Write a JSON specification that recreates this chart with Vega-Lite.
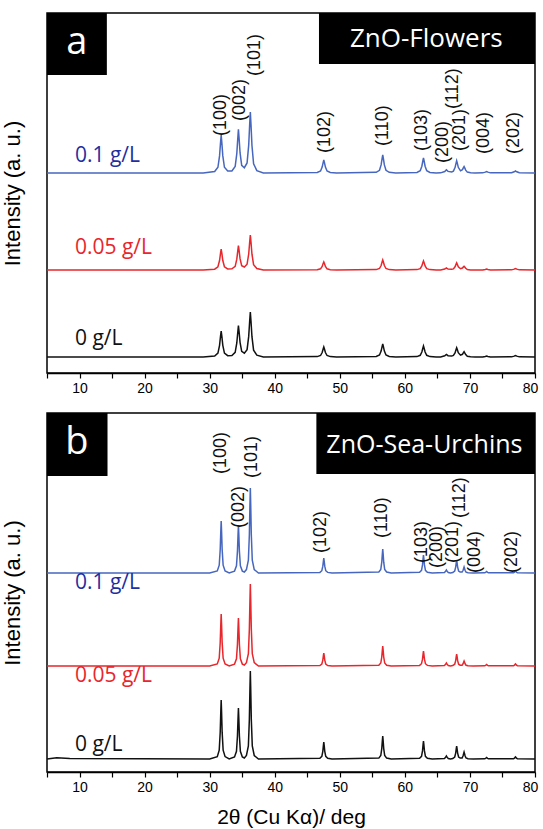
{
  "$schema": "https://vega.github.io/schema/vega-lite/v6.json",
  "padding": {"left": 0, "top": 12, "right": 0, "bottom": 0},
  "spacing": 16,
  "config": {
    "view": {"stroke": "black", "strokeWidth": 1.5},
    "font": "Liberation Sans",
    "axisX": {"values": [5,10,15,20,25,30,35,40,45,50,55,60,65,70,75,80], "labelExpr": "datum.value % 10 === 0 ? datum.label : ''", "labelFlush": false, "labelOffset": {"condition": {"test": "datum.value === 80", "value": -5}, "value": 0}, "labelFontSize": 14, "labelFont": "Liberation Sans", "labelColor": "black", "tickColor": "black", "tickSize": 5, "tickWidth": 1.2, "domainColor": "black", "domainWidth": 1.5, "grid": false, "labelPadding": 3, "titleFont": "Liberation Sans", "titleFontSize": 21, "titleFontWeight": "normal", "titleColor": "black", "titlePadding": 12},
    "axisY": {"labels": false, "ticks": false, "domain": false, "grid": false, "titleFont": "Liberation Sans", "titleFontSize": 22, "titleFontWeight": "normal", "titleColor": "black", "titlePadding": 23}
  },
  "datasets": {
    "ta": [
      {"x":5,"b":200,"r":103,"k":16},{"x":29,"b":200,"r":103,"k":16},{"x":30.77,"b":201.5,"r":103.8,"k":17},{"x":31.27,"b":205.7,"r":106.2,"k":19.9},{"x":31.52,"b":217.1,"r":112.5,"k":27.7},{"x":31.67,"b":230.4,"r":119.8,"k":36.8},{"x":31.77,"b":238,"r":124,"k":42},{"x":31.87,"b":230.4,"r":119.8,"k":36.8},{"x":32.02,"b":217.1,"r":112.5,"k":27.7},{"x":32.27,"b":205.7,"r":106.2,"k":19.9},{"x":32.77,"b":201.9,"r":104.1,"k":17.3},{"x":33.42,"b":202.1,"r":104.2,"k":17.5},{"x":33.92,"b":206.5,"r":106.6,"k":20.7},{"x":34.17,"b":219.4,"r":113.8,"k":30},{"x":34.32,"b":234.4,"r":122.2,"k":40.8},{"x":34.42,"b":243.6,"r":127.4,"k":47.5},{"x":34.52,"b":235,"r":122.6,"k":41.3},{"x":34.67,"b":220.3,"r":114.3,"k":30.7},{"x":34.92,"b":207.7,"r":107.3,"k":21.6},{"x":35.33,"b":205.3,"r":106,"k":19.8},{"x":35.75,"b":210.1,"r":108.8,"k":23.4},{"x":36.0,"b":227.9,"r":119,"k":36.6},{"x":36.15,"b":248.8,"r":131,"k":52},{"x":36.25,"b":261,"r":138,"k":61},{"x":36.35,"b":248.8,"r":131,"k":52},{"x":36.5,"b":227.5,"r":118.8,"k":36.3},{"x":36.75,"b":209.2,"r":108.3,"k":22.8},{"x":37.25,"b":202.4,"r":104.4,"k":17.8},{"x":38.25,"b":200,"r":103,"k":16},
      {"x":46.54,"b":200.5,"r":103.3,"k":16.4},{"x":47.04,"b":202,"r":104.2,"k":17.5},{"x":47.29,"b":205.9,"r":106.6,"k":20.5},{"x":47.44,"b":210.4,"r":109.4,"k":24},{"x":47.54,"b":213,"r":111,"k":26},{"x":47.64,"b":210.4,"r":109.4,"k":24},{"x":47.79,"b":205.9,"r":106.6,"k":20.5},{"x":48.04,"b":202,"r":104.2,"k":17.5},{"x":48.54,"b":200.5,"r":103.3,"k":16.4},{"x":49.5,"b":200,"r":103,"k":16},
      {"x":55.6,"b":200.7,"r":103.4,"k":16.5},{"x":56.1,"b":202.7,"r":104.5,"k":18},{"x":56.35,"b":208.1,"r":107.5,"k":21.9},{"x":56.5,"b":214.4,"r":111,"k":26.4},{"x":56.6,"b":218,"r":113,"k":29},{"x":56.7,"b":214.4,"r":111,"k":26.4},{"x":56.85,"b":208.1,"r":107.5,"k":21.9},{"x":57.1,"b":202.7,"r":104.5,"k":18},{"x":57.6,"b":200.7,"r":103.4,"k":16.5},{"x":58.6,"b":200,"r":103,"k":16},
      {"x":61.86,"b":200.6,"r":103.4,"k":16.4},{"x":62.36,"b":202.3,"r":104.4,"k":17.7},{"x":62.61,"b":206.8,"r":107,"k":21},{"x":62.76,"b":212,"r":110.2,"k":24.8},{"x":62.86,"b":215,"r":112,"k":27},{"x":62.96,"b":212,"r":110.2,"k":24.8},{"x":63.11,"b":206.8,"r":107,"k":21},{"x":63.36,"b":202.3,"r":104.4,"k":17.7},{"x":63.86,"b":200.6,"r":103.4,"k":16.4},{"x":64.8,"b":200,"r":103,"k":16},
      {"x":65.5,"b":200.15,"r":103.1,"k":16.1},{"x":66.13,"b":201.5,"r":104,"k":17.2},{"x":66.38,"b":203.2,"r":105.1,"k":18.6},{"x":66.63,"b":201.6,"r":104,"k":17.3},{"x":67.2,"b":201.1,"r":103.7,"k":16.9},{"x":67.46,"b":201.9,"r":104.1,"k":17.5},{"x":67.71,"b":205.4,"r":106.2,"k":20},{"x":67.86,"b":209.6,"r":108.6,"k":23.2},{"x":67.96,"b":212.2,"r":110.1,"k":25.2},{"x":68.06,"b":209.8,"r":108.7,"k":23.4},{"x":68.21,"b":205.7,"r":106.3,"k":20.3},{"x":68.55,"b":202.2,"r":104.3,"k":17.8},{"x":68.85,"b":203.3,"r":105,"k":18.7},{"x":69.0,"b":205.3,"r":106.1,"k":20.4},{"x":69.1,"b":206.4,"r":106.7,"k":21.3},{"x":69.2,"b":205.1,"r":106,"k":20.2},{"x":69.35,"b":202.9,"r":104.7,"k":18.4},{"x":69.6,"b":200.9,"r":103.5,"k":16.75},{"x":70.1,"b":200.24,"r":103.1,"k":16.2},{"x":70.8,"b":200,"r":103,"k":16},
      {"x":71.96,"b":200.15,"r":103.1,"k":16.1},{"x":72.36,"b":200.9,"r":103.6,"k":16.6},{"x":72.56,"b":201.5,"r":104,"k":17},{"x":72.76,"b":200.9,"r":103.6,"k":16.6},{"x":73.16,"b":200.15,"r":103.1,"k":16.1},
      {"x":76.4,"b":200.2,"r":103.15,"k":16.15},{"x":76.8,"b":201.2,"r":103.9,"k":16.9},{"x":77.0,"b":202,"r":104.5,"k":17.5},{"x":77.2,"b":201.2,"r":103.9,"k":16.9},{"x":77.6,"b":200.2,"r":103.15,"k":16.15},{"x":80,"b":200,"r":103,"k":16}
    ],
    "tb": [
      {"x":5,"b":199,"r":106,"k":13},{"x":6.5,"b":199,"r":106,"k":14.2},{"x":8.5,"b":199,"r":106,"k":13.4},{"x":30,"b":199,"r":106,"k":13},
      {"x":31.17,"b":201.1,"r":108.1,"k":15.4},{"x":31.47,"b":206.8,"r":113.8,"k":21.9},{"x":31.62,"b":222.4,"r":129.4,"k":39.6},{"x":31.71,"b":240.6,"r":147.6,"k":60.2},{"x":31.77,"b":251,"r":158,"k":72},{"x":31.83,"b":240.6,"r":147.6,"k":60.2},{"x":31.92,"b":222.4,"r":129.4,"k":39.6},{"x":32.07,"b":206.8,"r":113.8,"k":21.9},{"x":32.37,"b":201.1,"r":108.1,"k":15.4},{"x":33.0,"b":199,"r":106,"k":13},
      {"x":33.82,"b":200.9,"r":107.9,"k":15},{"x":34.12,"b":206.2,"r":113.2,"k":20.7},{"x":34.27,"b":220.6,"r":127.6,"k":36},{"x":34.36,"b":237.4,"r":144.4,"k":53.8},{"x":34.42,"b":247,"r":154,"k":64},{"x":34.48,"b":237.4,"r":144.4,"k":53.8},{"x":34.57,"b":220.6,"r":127.6,"k":36},{"x":34.72,"b":206.2,"r":113.2,"k":20.7},{"x":35.02,"b":200.9,"r":107.9,"k":15},{"x":35.33,"b":200,"r":107,"k":14},
      {"x":35.65,"b":202.4,"r":109.3,"k":16.5},{"x":35.95,"b":211.8,"r":118.3,"k":26.2},{"x":36.10,"b":237.3,"r":142.9,"k":52.6},{"x":36.19,"b":267,"r":171.6,"k":83.4},{"x":36.25,"b":284,"r":188,"k":101},{"x":36.31,"b":267,"r":171.6,"k":83.4},{"x":36.40,"b":237.3,"r":142.9,"k":52.6},{"x":36.55,"b":211.8,"r":118.3,"k":26.2},{"x":36.85,"b":202.4,"r":109.3,"k":16.5},{"x":37.5,"b":199,"r":106,"k":13},
      {"x":46.94,"b":199.6,"r":106.5,"k":13.7},{"x":47.24,"b":201.3,"r":108,"k":15.6},{"x":47.39,"b":205.8,"r":111.9,"k":20.7},{"x":47.48,"b":211,"r":116.4,"k":26.6},{"x":47.54,"b":214,"r":119,"k":30},{"x":47.60,"b":211,"r":116.4,"k":26.6},{"x":47.69,"b":205.8,"r":111.9,"k":20.7},{"x":47.84,"b":201.3,"r":108,"k":15.6},{"x":48.14,"b":199.6,"r":106.5,"k":13.7},{"x":48.8,"b":199,"r":106,"k":13},
      {"x":56.0,"b":200,"r":106.8,"k":13.9},{"x":56.3,"b":202.6,"r":109,"k":16.5},{"x":56.45,"b":209.8,"r":115,"k":23.4},{"x":56.54,"b":218.2,"r":122,"k":31.4},{"x":56.6,"b":223,"r":126,"k":36},{"x":56.66,"b":218.2,"r":122,"k":31.4},{"x":56.75,"b":209.8,"r":115,"k":23.4},{"x":56.9,"b":202.6,"r":109,"k":16.5},{"x":57.2,"b":200,"r":106.8,"k":13.9},{"x":57.9,"b":199,"r":106,"k":13},
      {"x":62.26,"b":199.7,"r":106.6,"k":13.7},{"x":62.56,"b":201.7,"r":108.3,"k":15.7},{"x":62.71,"b":207.1,"r":112.8,"k":21.1},{"x":62.80,"b":213.4,"r":118,"k":27.4},{"x":62.86,"b":217,"r":121,"k":31},{"x":62.92,"b":213.4,"r":118,"k":27.4},{"x":63.01,"b":207.1,"r":112.8,"k":21.1},{"x":63.16,"b":201.7,"r":108.3,"k":15.7},{"x":63.46,"b":199.7,"r":106.6,"k":13.7},{"x":64.2,"b":199,"r":106,"k":13},
      {"x":66.08,"b":199.5,"r":106.5,"k":13.5},{"x":66.23,"b":200.4,"r":107.4,"k":14.4},{"x":66.38,"b":202,"r":109,"k":16},{"x":66.53,"b":200.4,"r":107.4,"k":14.4},{"x":66.68,"b":199.5,"r":106.5,"k":13.5},{"x":67.0,"b":199,"r":106,"k":13},
      {"x":67.36,"b":199.5,"r":106.5,"k":13.5},{"x":67.66,"b":201,"r":107.8,"k":15},{"x":67.81,"b":204.9,"r":111.4,"k":18.9},{"x":67.90,"b":209.4,"r":115.6,"k":23.4},{"x":67.96,"b":212,"r":118,"k":26},{"x":68.02,"b":209.4,"r":115.6,"k":23.4},{"x":68.11,"b":204.9,"r":111.4,"k":18.9},{"x":68.26,"b":201,"r":107.8,"k":15},{"x":68.5,"b":199.9,"r":106.8,"k":13.9},
      {"x":68.8,"b":199.9,"r":106.75,"k":14},{"x":68.95,"b":201.7,"r":108.25,"k":16.2},{"x":69.04,"b":203.8,"r":110,"k":18.6},{"x":69.1,"b":205,"r":111,"k":20},{"x":69.16,"b":203.8,"r":110,"k":18.6},{"x":69.25,"b":201.7,"r":108.25,"k":16.2},{"x":69.4,"b":199.9,"r":106.75,"k":14},{"x":69.7,"b":199.2,"r":106.2,"k":13.3},{"x":70.5,"b":199,"r":106,"k":13},
      {"x":72.26,"b":199.2,"r":106.2,"k":13.2},{"x":72.41,"b":199.7,"r":106.7,"k":13.7},{"x":72.56,"b":200.5,"r":107.5,"k":14.5},{"x":72.71,"b":199.7,"r":106.7,"k":13.7},{"x":72.86,"b":199.2,"r":106.2,"k":13.2},
      {"x":76.7,"b":199.3,"r":106.3,"k":13.3},{"x":76.85,"b":199.9,"r":106.9,"k":13.9},{"x":77.0,"b":201,"r":108,"k":15},{"x":77.15,"b":199.9,"r":106.9,"k":13.9},{"x":77.3,"b":199.3,"r":106.3,"k":13.3},{"x":80,"b":199,"r":106,"k":13}
    ],
    "boxa": [{"x":5,"x2":14.2,"y":298,"y2":360},{"x":46.8,"x2":80,"y":309,"y2":360}],
    "boxb": [{"x":5,"x2":14.3,"y":296,"y2":359},{"x":46.4,"x2":80,"y":298,"y2":359}],
    "conca": [{"x":9.3,"y":217,"t":"0.1 g/L","s":"b"},{"x":9.3,"y":125,"t":"0.05 g/L","s":"r"},{"x":9.3,"y":34,"t":"0 g/L","s":"k"}],
    "concb": [{"x":9.3,"y":189,"t":"0.1 g/L","s":"b"},{"x":9.3,"y":96,"t":"0.05 g/L","s":"r"},{"x":9.3,"y":27,"t":"0 g/L","s":"k"}],
    "hkla": [{"x":31.7,"y":237,"t":"(100)"},{"x":34.6,"y":252,"t":"(002)"},{"x":36.9,"y":297,"t":"(101)"},{"x":47.7,"y":220,"t":"(102)"},{"x":56.6,"y":227,"t":"(110)"},{"x":62.7,"y":222,"t":"(103)"},{"x":65.9,"y":210,"t":"(200)"},{"x":67.4,"y":264,"t":"(112)"},{"x":68.5,"y":222,"t":"(201)"},{"x":72.2,"y":219,"t":"(004)"},{"x":76.8,"y":219,"t":"(202)"}],
    "hklb": [{"x":31.7,"y":298,"t":"(100)"},{"x":34.5,"y":244,"t":"(002)"},{"x":36.5,"y":294,"t":"(101)"},{"x":47.1,"y":219,"t":"(102)"},{"x":56.5,"y":234,"t":"(110)"},{"x":62.6,"y":209,"t":"(103)"},{"x":65.0,"y":204,"t":"(200)"},{"x":68.4,"y":254,"t":"(112)"},{"x":67.4,"y":209,"t":"(201)"},{"x":70.8,"y":199,"t":"(004)"},{"x":76.5,"y":199,"t":"(202)"}]
  },
  "vconcat": [
    {
      "width": 488, "height": 360,
      "encoding": {
        "x": {"field": "x", "type": "quantitative", "scale": {"domain": [5, 80], "nice": false, "zero": false}, "axis": {"title": null}},
        "y": {"field": "y", "type": "quantitative", "scale": {"domain": [0, 360], "nice": false, "zero": false}, "axis": {"title": "Intensity (a. u.)"}}
      },
      "layer": [
        {"data": {"name": "ta"}, "transform": [{"fold": ["b", "r", "k"], "as": ["s", "y"]}], "mark": {"type": "line", "strokeWidth": 1.5}, "encoding": {"color": {"field": "s", "type": "nominal", "scale": {"domain": ["b", "r", "k"], "range": ["#4767bf", "#e8262b", "#111111"]}, "legend": null}}},
        {"data": {"name": "boxa"}, "mark": {"type": "rect", "color": "black"}, "encoding": {"x2": {"field": "x2"}, "y2": {"field": "y2"}}},
        {"data": {"values": [{"x": 9.6, "y": 330, "t": "a"}]}, "mark": {"type": "text", "font": "Open Sans", "fontSize": 38, "color": "white", "align": "center", "baseline": "middle"}, "encoding": {"text": {"field": "t"}}},
        {"data": {"values": [{"x": 63.3, "y": 334, "t": "ZnO-Flowers"}]}, "mark": {"type": "text", "font": "Open Sans", "fontSize": 26, "color": "white", "align": "center", "baseline": "middle"}, "encoding": {"text": {"field": "t"}}},
        {"data": {"name": "conca"}, "mark": {"type": "text", "font": "Open Sans", "fontSize": 21, "align": "left", "baseline": "middle"}, "encoding": {"text": {"field": "t"}, "color": {"field": "s", "type": "nominal", "scale": {"domain": ["b", "r", "k"], "range": ["#1f2f9f", "#e8262b", "#111111"]}, "legend": null}}},
        {"data": {"name": "hkla"}, "mark": {"type": "text", "font": "Liberation Sans", "fontSize": 18, "angle": 270, "align": "left", "baseline": "middle", "color": "#111111"}, "encoding": {"text": {"field": "t"}}}
      ],
      "resolve": {"scale": {"color": "independent"}}
    },
    {
      "width": 488, "height": 359,
      "encoding": {
        "x": {"field": "x", "type": "quantitative", "scale": {"domain": [5, 80], "nice": false, "zero": false}, "axis": {"title": "2θ (Cu Kα)/ deg"}},
        "y": {"field": "y", "type": "quantitative", "scale": {"domain": [0, 359], "nice": false, "zero": false}, "axis": {"title": "Intensity (a. u.)"}}
      },
      "layer": [
        {"data": {"name": "tb"}, "transform": [{"fold": ["b", "r", "k"], "as": ["s", "y"]}], "mark": {"type": "line", "strokeWidth": 1.5}, "encoding": {"color": {"field": "s", "type": "nominal", "scale": {"domain": ["b", "r", "k"], "range": ["#4767bf", "#e8262b", "#111111"]}, "legend": null}}},
        {"data": {"name": "boxb"}, "mark": {"type": "rect", "color": "black"}, "encoding": {"x2": {"field": "x2"}, "y2": {"field": "y2"}}},
        {"data": {"values": [{"x": 9.6, "y": 329, "t": "b"}]}, "mark": {"type": "text", "font": "Open Sans", "fontSize": 38, "color": "white", "align": "center", "baseline": "middle"}, "encoding": {"text": {"field": "t"}}},
        {"data": {"values": [{"x": 63.0, "y": 327, "t": "ZnO-Sea-Urchins"}]}, "mark": {"type": "text", "font": "Open Sans", "fontSize": 25, "color": "white", "align": "center", "baseline": "middle"}, "encoding": {"text": {"field": "t"}}},
        {"data": {"name": "concb"}, "mark": {"type": "text", "font": "Open Sans", "fontSize": 21, "align": "left", "baseline": "middle"}, "encoding": {"text": {"field": "t"}, "color": {"field": "s", "type": "nominal", "scale": {"domain": ["b", "r", "k"], "range": ["#1f2f9f", "#e8262b", "#111111"]}, "legend": null}}},
        {"data": {"name": "hklb"}, "mark": {"type": "text", "font": "Liberation Sans", "fontSize": 18, "angle": 270, "align": "left", "baseline": "middle", "color": "#111111"}, "encoding": {"text": {"field": "t"}}}
      ],
      "resolve": {"scale": {"color": "independent"}}
    }
  ]
}
